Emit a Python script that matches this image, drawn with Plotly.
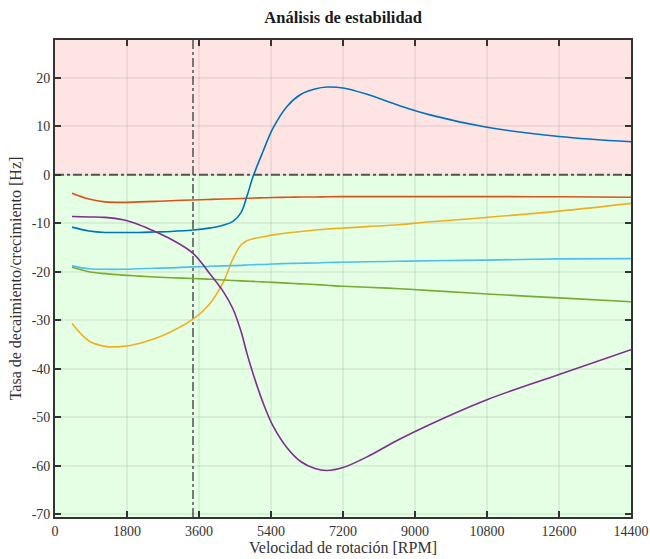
import plotly.graph_objects as go

rpm = [425, 850, 1250, 1700, 2100, 2500, 2900, 3450, 3850, 4200, 4450, 4650, 4800, 4950,
       5200, 5450, 5800, 6150, 6500, 6800, 7200, 7800, 8600, 9400, 10800, 12600, 14400]

modo_azul = [-10.8, -11.6, -11.9, -11.9, -11.9, -11.8, -11.7, -11.4, -11.0, -10.4, -9.6, -7.8, -4.4, -0.4,
             4.8, 9.6, 14.1, 16.6, 17.7, 18.1, 17.9, 16.6, 14.3, 12.3, 9.8, 7.9, 6.8]
modo_naranja = [-3.8, -5.0, -5.6, -5.7, -5.6, -5.5, -5.35, -5.2, -5.1, -5.0, -4.95, -4.9, -4.85, -4.8,
                -4.75, -4.7, -4.65, -4.6, -4.6, -4.55, -4.5, -4.5, -4.5, -4.5, -4.5, -4.55, -4.65]
modo_amarillo = [-30.7, -34.3, -35.4, -35.4, -34.8, -33.8, -32.4, -29.8, -26.8, -22.3, -17.3, -14.5, -13.6, -13.2,
                 -12.8, -12.4, -12.0, -11.7, -11.4, -11.2, -11.0, -10.7, -10.3, -9.7, -8.8, -7.5, -5.9]
modo_morado = [-8.6, -8.7, -8.8, -9.3, -10.3, -11.7, -13.3, -16.2, -20.2, -24.0, -27.7, -32.3, -36.9, -41.0,
               -47.0, -51.8, -56.3, -59.2, -60.6, -61.0, -60.4, -58.2, -54.6, -51.4, -46.4, -41.2, -36.1]
modo_verde = [-19.1, -20.0, -20.4, -20.7, -20.9, -21.1, -21.25, -21.4, -21.55, -21.7, -21.8, -21.9, -21.95, -22.0,
              -22.1, -22.2, -22.35, -22.5, -22.65, -22.8, -23.0, -23.2, -23.5, -23.9, -24.6, -25.4, -26.2]
modo_celeste = [-18.8, -19.4, -19.5, -19.5, -19.4, -19.3, -19.2, -19.0, -18.9, -18.8, -18.75, -18.7, -18.6, -18.55,
                -18.5, -18.4, -18.3, -18.25, -18.2, -18.1, -18.05, -17.95, -17.85, -17.75, -17.6, -17.35, -17.3]

velocidad_operacion = 3450

x_ticks = [0, 1800, 3600, 5400, 7200, 9000, 10800, 12600, 14400]
y_ticks = [-70, -60, -50, -40, -30, -20, -10, 0, 10, 20]
y_ticktext = ["-70", "-60", "-50", "-40", "-30", "-20", "-10", "0", "10", "20"]

series = [
    (modo_naranja, "#D95319"),
    (modo_azul, "#0072BD"),
    (modo_amarillo, "#EDB120"),
    (modo_celeste, "#4DBEEE"),
    (modo_verde, "#77AC30"),
    (modo_morado, "#7E2F8E"),
]

fig = go.Figure()
for vals, col in series:
    fig.add_trace(go.Scatter(x=rpm, y=vals, mode="lines",
                             line=dict(color=col, width=1.6, shape="spline", smoothing=1.0),
                             showlegend=False, hoverinfo="skip"))

Y0, Y1 = -70.6, 27.8
shapes = [
    dict(type="rect", xref="paper", yref="y", x0=0, x1=1, y0=0, y1=Y1,
         fillcolor="#FFE4E4", line=dict(width=0), layer="below"),
    dict(type="rect", xref="paper", yref="y", x0=0, x1=1, y0=Y0, y1=0,
         fillcolor="#E4FFE4", line=dict(width=0), layer="below"),
    dict(type="line", xref="paper", yref="y", x0=0, x1=1, y0=0, y1=0,
         line=dict(color="#5a5a5a", width=2, dash="dashdot"), layer="between"),
    dict(type="line", xref="x", yref="paper", x0=velocidad_operacion, x1=velocidad_operacion, y0=0, y1=1,
         line=dict(color="#5a5a5a", width=1.6, dash="dashdot"), layer="between"),
]

serif = "Liberation Serif, DejaVu Serif, serif"
fig.update_layout(
    width=650, height=559,
    margin=dict(l=55, r=19, t=40, b=42, autoexpand=False),
    paper_bgcolor="white", plot_bgcolor="white",
    shapes=shapes,
    font=dict(family=serif, size=14, color="#333333"),
    title=dict(text="<b>Análisis de estabilidad</b>", x=0.528, xanchor="center",
               y=0.97, yanchor="middle", font=dict(family=serif, size=16.5, color="#1a1a1a"),
               automargin=False),
)
fig.update_xaxes(
    range=[0, 14400], tickvals=x_ticks, ticktext=[str(v) for v in x_ticks],
    ticks="inside", ticklen=6, tickwidth=1.5, tickcolor="#333333",
    showline=True, linecolor="#333333", linewidth=1.8, mirror="ticks",
    showgrid=True, gridcolor="rgba(0,0,0,0.06)", gridwidth=2, zeroline=False,
    title=dict(text="Velocidad de rotación [RPM]", standoff=4, font=dict(size=16)),
    tickfont=dict(size=14), automargin=False,
)
fig.update_yaxes(
    range=[Y0, Y1], tickvals=y_ticks, ticktext=y_ticktext,
    ticks="inside", ticklen=6, tickwidth=1.5, tickcolor="#333333",
    showline=True, linecolor="#333333", linewidth=1.8, mirror="ticks",
    showgrid=True, gridcolor="rgba(0,0,0,0.06)", gridwidth=2, zeroline=False,
    title=dict(text="Tasa de decaimiento/crecimiento [Hz]", standoff=6, font=dict(size=16)),
    tickfont=dict(size=14), automargin=False,
)

fig.write_html("out.html", config={"displayModeBar": False},
               post_script="document.body.style.margin='0px';document.body.style.overflow='hidden';")
